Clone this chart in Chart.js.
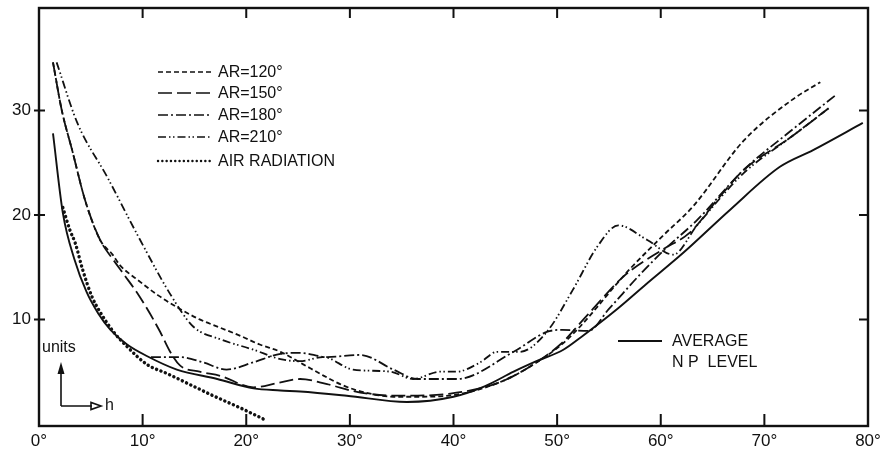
<!DOCTYPE html>
<html>
<head>
<meta charset="utf-8">
<script src="https://cdn.jsdelivr.net/npm/chart.js@4.4.0/dist/chart.umd.min.js"></script>
<style>
  html, body { margin: 0; padding: 0; background: #fff; }
  #wrap { width: 889px; height: 452px; }
</style>
</head>
<body>
<div id="wrap"><canvas id="c" width="889" height="452"></canvas></div>
<script>
// Axis ticks: altitude h (degrees) and level (units)
const xTicks = [0, 10, 20, 30, 40, 50, 60, 70, 80];
const yTicks = [10, 20, 30];

// AR = 120°
const ar120X = [1.35, 2.2, 3.2, 4.45, 5.9, 7.1, 7.8, 9.5, 11.5, 13.6, 15.5, 17.5, 19.5, 21.3, 23.3, 25.5, 27.5, 29.3, 31.5, 34.2, 36.5, 40.3, 44.5, 47.4, 51.0, 57.0, 60.2, 63.1, 68.0, 72.8, 75.4];
const ar120Y = [34.6, 30.0, 26.2, 21.4, 17.6, 16.2, 15.2, 13.8, 12.3, 11.0, 10.0, 9.2, 8.4, 7.6, 6.9, 5.7, 4.6, 3.7, 3.0, 2.6, 2.6, 2.8, 4.0, 5.5, 8.1, 14.8, 18.0, 20.8, 27.1, 31.1, 32.7];

// AR = 150°
const ar150X = [1.35, 2.2, 3.2, 4.45, 5.9, 7.1, 8.2, 9.7, 11.7, 12.6, 13.6, 15.5, 17.5, 20.7, 23.0, 25.2, 27.8, 31.0, 34.8, 39.7, 44.5, 47.4, 50.3, 53.0, 56.4, 60.2, 62.8, 65.5, 68.0, 72.5, 76.2];
const ar150Y = [34.6, 30.0, 26.2, 21.4, 17.6, 15.8, 14.3, 12.2, 8.8, 7.0, 5.6, 5.0, 4.6, 3.5, 3.9, 4.3, 3.8, 3.0, 2.7, 2.9, 4.0, 5.5, 7.6, 10.5, 14.1, 16.7, 18.3, 21.5, 24.3, 27.4, 30.2];

// AR = 180°
const ar180X = [10.8, 13.6, 15.8, 18.1, 20.7, 23.3, 25.2, 27.8, 31.0, 34.2, 36.5, 40.3, 45.8, 49.0, 50.5, 53.0, 55.0, 58.0, 60.5, 63.5, 68.0, 72.5, 76.8];
const ar180Y = [6.4, 6.4, 5.9, 5.2, 5.9, 6.7, 6.8, 6.4, 6.6, 5.2, 4.3, 4.3, 6.9, 8.8, 9.0, 8.9, 11.0, 14.3, 16.8, 19.5, 24.3, 28.0, 31.4];

// AR = 210°
const ar210X = [1.7, 3.7, 6.6, 9.6, 12.8, 14.9, 17.5, 20.7, 23.3, 25.2, 27.4, 30.3, 33.9, 36.1, 38.7, 40.3, 42.6, 44.2, 46.4, 49.0, 51.5, 53.9, 55.9, 58.7, 61.2, 63.5, 68.0, 72.5, 76.2];
const ar210Y = [34.6, 28.8, 23.6, 17.9, 12.2, 9.3, 8.1, 7.1, 6.2, 6.0, 6.4, 5.2, 5.0, 4.3, 5.0, 5.0, 5.9, 6.9, 6.9, 8.8, 12.8, 17.0, 19.0, 17.6, 16.2, 19.0, 24.0, 27.4, 30.2];

// Air radiation
const airX = [2.3, 3.0, 3.5, 4.2, 5.1, 5.9, 7.2, 8.5, 10.4, 12.4, 14.5, 16.8, 19.5, 22.0];
const airY = [20.7, 18.5, 17.3, 14.8, 12.2, 10.7, 8.8, 7.4, 5.7, 4.8, 3.8, 2.7, 1.5, 0.3];

// Average NP level
const avgX = [1.35, 2.3, 3.4, 4.6, 5.7, 6.9, 8.5, 10.4, 13.3, 17.2, 20.7, 23.3, 25.2, 29.7, 35.5, 40.0, 43.0, 45.8, 48.0, 50.6, 52.3, 55.8, 58.5, 62.2, 66.7, 71.5, 74.7, 79.5];
const avgY = [27.8, 20.2, 15.8, 12.6, 10.6, 9.0, 7.6, 6.5, 5.2, 4.3, 3.4, 3.2, 3.1, 2.7, 2.1, 2.6, 3.6, 5.0, 6.0, 7.1, 8.3, 11.0, 13.3, 16.4, 20.5, 24.6, 26.2, 28.8];

const INK = '#111';
const FONT = '"Liberation Sans", Arial, sans-serif';

function pts(xs, ys) { return xs.map((x, i) => ({ x: x, y: ys[i] })); }

function series(label, xs, ys, dash, extra) {
  return Object.assign({
    label: label,
    data: pts(xs, ys),
    borderColor: INK,
    borderWidth: 1.8,
    borderDash: dash,
    pointRadius: 0,
    fill: false,
    cubicInterpolationMode: 'monotone',
    inLegend: true
  }, extra || {});
}

const datasets = [
  series('AR=120°', ar120X, ar120Y, [5, 3]),
  series('AR=150°', ar150X, ar150Y, [14, 5]),
  series('AR=180°', ar180X, ar180Y, [10, 3, 2, 3]),
  series('AR=210°', ar210X, ar210Y, [8, 3, 1.5, 2.5, 1.5, 3]),
  series('AIR RADIATION', airX, airY, [0.1, 4.6], { borderWidth: 3.4, borderCapStyle: 'round' }),
  series('AVERAGE NP LEVEL', avgX, avgY, [], { inLegend: false, borderWidth: 1.9 })
];

// Frame, inward ticks, legend key and annotations
const decor = {
  id: 'decor',
  afterDatasetsDraw(chart) {
    const ctx = chart.ctx;
    const a = chart.chartArea;
    const xs = chart.scales.x, ys = chart.scales.y;
    ctx.save();
    ctx.strokeStyle = INK;
    ctx.fillStyle = INK;
    ctx.setLineDash([]);
    ctx.lineCap = 'butt';

    // frame
    ctx.lineWidth = 2.4;
    ctx.strokeRect(a.left, a.top, a.right - a.left, a.bottom - a.top);

    // x ticks on bottom and top edges
    ctx.lineWidth = 2;
    xTicks.forEach(v => {
      if (v === xs.min || v === xs.max) return;
      const px = xs.getPixelForValue(v);
      ctx.beginPath();
      ctx.moveTo(px, a.bottom); ctx.lineTo(px, a.bottom - 12);
      ctx.moveTo(px, a.top); ctx.lineTo(px, a.top + 10);
      ctx.stroke();
    });
    // y ticks on left and right edges
    yTicks.forEach(v => {
      const py = ys.getPixelForValue(v);
      ctx.beginPath();
      ctx.moveTo(a.left - 5, py); ctx.lineTo(a.left + 6, py);
      ctx.moveTo(a.right, py); ctx.lineTo(a.right - 9, py);
      ctx.stroke();
    });

    // legend key
    const lx0 = 158, lx1 = 211, tx = 218;
    const rows = [72, 93, 115, 137, 161];
    ctx.font = '16px ' + FONT;
    ctx.textBaseline = 'middle';
    ctx.textAlign = 'left';
    chart.data.datasets.filter(d => d.inLegend).forEach((d, i) => {
      const y = rows[i];
      ctx.save();
      const dotted = d.borderCapStyle === 'round';
      ctx.lineWidth = dotted ? 2.4 : 1.6;
      ctx.lineCap = dotted ? 'round' : 'butt';
      ctx.setLineDash(dotted ? [0.1, 4.2] : d.borderDash);
      ctx.beginPath(); ctx.moveTo(lx0, y); ctx.lineTo(lx1, y); ctx.stroke();
      ctx.restore();
      ctx.fillText(d.label, tx, y + 1);
    });

    // average NP level key
    const avgY0 = 341;
    ctx.lineWidth = 1.9;
    ctx.beginPath(); ctx.moveTo(618, avgY0); ctx.lineTo(662, avgY0); ctx.stroke();
    ctx.fillText('AVERAGE', 672, avgY0 + 1);
    ctx.fillText('N P  LEVEL', 672, 363);

    // units / h axis note
    ctx.fillText('units', 42, 348);
    ctx.lineWidth = 1.6;
    ctx.beginPath();
    ctx.moveTo(61, 406); ctx.lineTo(61, 372);
    ctx.moveTo(61, 406); ctx.lineTo(92, 406);
    ctx.stroke();
    ctx.beginPath();
    ctx.moveTo(61, 362); ctx.lineTo(57.5, 374); ctx.lineTo(64.5, 374); ctx.closePath(); ctx.fill();
    ctx.beginPath();
    ctx.moveTo(101, 406); ctx.lineTo(91, 402.5); ctx.lineTo(91, 409.5); ctx.closePath(); ctx.stroke();
    ctx.fillText('h', 105, 406);

    ctx.restore();
  }
};

new Chart(document.getElementById('c'), {
  type: 'line',
  data: { datasets: datasets },
  options: {
    responsive: false,
    animation: false,
    layout: { padding: { top: 8, right: 21, left: 0, bottom: 0 } },
    plugins: { legend: { display: false }, tooltip: { enabled: false } },
    scales: {
      x: {
        type: 'linear', min: 0, max: 80,
        afterBuildTicks: s => { s.ticks = xTicks.map(v => ({ value: v })); },
        afterFit: s => { s.height = 26; s.paddingLeft = 0; s.paddingRight = 0; },
        grid: { display: false, drawTicks: false }, border: { display: false },
        ticks: { callback: v => v + '°', color: INK, font: { family: FONT, size: 17 }, padding: 5, maxRotation: 0, autoSkip: false }
      },
      y: {
        type: 'linear', min: -0.2, max: 39.8,
        afterBuildTicks: s => { s.ticks = yTicks.map(v => ({ value: v })); },
        afterFit: s => { s.width = 39; s.paddingTop = 0; s.paddingBottom = 0; },
        grid: { display: false, drawTicks: false }, border: { display: false },
        ticks: { color: INK, font: { family: FONT, size: 17 }, padding: 8 }
      }
    }
  },
  plugins: [decor]
});
</script>
</body>
</html>
